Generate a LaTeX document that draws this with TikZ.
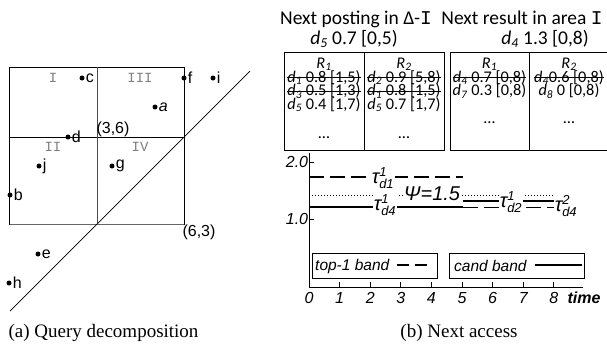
\documentclass[tikz,border=0pt]{standalone}
\usepackage{fontspec}
\setmainfont{Liberation Serif}
\newfontfamily\arial{Liberation Sans}
\newfontfamily\calib{Carlito}
\newfontfamily\cour{Liberation Mono}
\newcommand\dsub[1]{\textit{d}\textsubscript{\textit{#1}}}
\newcommand\rsub[1]{\textit{R}\textsubscript{\textit{#1}}}
\newcommand\taul[2]{$\mbox{τ}^{\mbox{\fontsize{13}{13}\selectfont #1}}_{\mbox{\fontsize{13}{13}\selectfont #2}}$}
\tikzset{
  dot/.style={circle,fill=black,inner sep=0pt,minimum size=5pt},
  ptlab/.style={font=\arial\fontsize{16}{16}\selectfont,inner sep=0pt,anchor=west},
  quad/.style={font=\cour\fontsize{14}{14}\selectfont,text=black!50,inner sep=0pt},
  crd/.style={font=\arial\fontsize{16}{16}\selectfont,inner sep=0pt},
  capt/.style={font=\fontsize{19}{19}\selectfont,anchor=base,inner sep=0pt},
  ttl/.style={font=\calib\fontsize{19.5}{19.5}\selectfont,anchor=base,inner sep=0pt},
  cell/.style={font=\calib\fontsize{16.3}{16.3}\selectfont,anchor=base,inner sep=0pt,text height=9pt,text depth=1.5pt},
  axlab/.style={font=\arial\itshape\fontsize{16}{16}\selectfont,inner sep=0pt},
  lglab/.style={font=\arial\itshape\fontsize{15.5}{15.5}\selectfont,inner sep=0pt,anchor=west},
  taulab/.style={font=\arial\itshape\fontsize{20}{20}\selectfont,fill=white,inner sep=0.3pt},
  topdash/.style={dash pattern=on 15pt off 6pt,line width=1.1pt},
  candline/.style={line width=1.1pt},
  thrline/.style={dash pattern=on 0.8pt off 2.2pt,line width=0.8pt},
  strk/.style={line width=0.7pt},
  box/.style={draw,line width=0.8pt}
}
\begin{document}
\begin{tikzpicture}[x=1pt,y=-1pt]
\useasboundingbox[fill=white] (0,0) rectangle (607,346);
% ---------- (a) query decomposition ----------
\draw[line width=0.8pt] (9.5,67) rectangle (184,224);
\draw[line width=0.8pt] (9.5,137) -- (184,137);
\draw[line width=1pt,black!70] (97,67) -- (97,224);
\draw[line width=0.9pt,black!60] (9.5,224) -- (184,224);
\draw[line width=0.7pt] (10,311) -- (250,71);
\node[quad] (qI) at (53,78) {I};
\node[quad] (qIII) at (140,78) {III};
\node[quad] (qII) at (53,147) {II};
\node[quad] (qIV) at (140,147) {IV};
\node[crd] (p36) at (113,129) {(3,6)};
\node[crd] (p63) at (199,232) {(6,3)};
\foreach \n/\x/\y/\t in {c/82/78/c, f/184/78/f, i/213/78/i, d/68/137/d, j/39/166/j, g/112/166/g, b/10/195/b, e/38/254/e, h/9/283/h}{
  \node[dot] (\n) at (\x,\y) {};
  \node[ptlab] (l\n) at ([xshift=1pt]\n.east) {\t};
}
\node[dot] (a) at (155,107) {};
\node[ptlab] (la) at ([xshift=1pt]a.east) {\textit{a}};
\node[capt] (capa) at (103.5,337) {(a) Query decomposition};
% ---------- (b) next access ----------
\node[ttl] (t1) at (356,24) {Next posting in Δ-{\cour I}};
\node[ttl] (t1b) at (354,44) {\dsub{5} 0.7 [0,5)};
\node[ttl] (t2) at (522,24) {Next result in area {\cour I}};
\node[ttl] (t2b) at (545,44) {\dsub{4} 1.3 [0,8)};
% tables
\draw[box] (284,52) rectangle (444,150);
\draw[box] (364,52) -- (364,150);
\draw[box] (609,52) -- (450,52) -- (450,150) -- (609,150);
\draw[box] (529,52) -- (529,150);
\node[cell] (h11) at (324,68) {\rsub{1}};
\node[cell] (h12) at (404,68) {\rsub{2}};
\node[cell] (h21) at (489.5,68) {\rsub{1}};
\node[cell] (h22) at (569,68) {\rsub{2}};
\node[cell] (a1) at (324,82) {\dsub{1} 0.8 [1,5)};
\node[cell] (a2) at (324,95.5) {\dsub{3} 0.5 [1,3)};
\node[cell] (a3) at (324,109) {\dsub{5} 0.4 [1,7)};
\node[cell] (a4) at (324,138) {…};
\node[cell] (b1) at (404,82) {\dsub{2} 0.9 [5,8)};
\node[cell] (b2) at (404,95.5) {\dsub{1} 0.8 [1,5)};
\node[cell] (b3) at (404,109) {\dsub{5} 0.7 [1,7)};
\node[cell] (b4) at (404,138) {…};
\node[cell] (c1) at (489.5,82) {\dsub{4} 0.7 [0,8)};
\node[cell] (c2) at (489.5,95.5) {\dsub{7} 0.3 [0,8)};
\node[cell] (c3) at (489.5,123) {…};
\node[cell] (e1) at (569,82) {\dsub{4}0.6 [0,8)};
\node[cell] (e2) at (569,95.5) {\dsub{8} 0 [0,8)};
\node[cell] (e3) at (569,123) {…};
\foreach \n in {a1,a2,b1,b2,c1,e1}{
  \draw[strk] ([yshift=4.6pt]\n.base west) -- ([yshift=4.6pt]\n.base east);
}
% plot axes
\draw[line width=0.8pt] (309,153) -- (309,287) -- (583,287);
\draw[line width=0.8pt] (309,162) -- (314,162);
\draw[line width=0.8pt] (309,219) -- (314,219);
\node[axlab] (y2) at (297,162) {2.0};
\node[axlab] (y1) at (297,219) {1.0};
\foreach \k in {1,...,8}{
  \draw[line width=0.8pt] (309+30.6*\k,287) -- (309+30.6*\k,282);
}
\foreach \k in {0,...,8}{
  \node[axlab] (x\k) at (309+30.6*\k,298) {\k};
}
\node[axlab,font=\arial\bfseries\itshape\fontsize{16}{16}\selectfont] (tm) at (584,298) {time};
% bands
\draw[thrline] (309,195) -- (555,195);
\draw[topdash] (309,177) -- (463,177);
\draw[topdash] (463,207.5) -- (555,207.5);
\draw[candline] (309,207) -- (463,207);
\draw[candline] (463,201) -- (555,201);
\node[taulab] (td1) at (383,178) {\taul{1}{d1}};
\node[taulab] (td4a) at (385,205) {\taul{1}{d4}};
\node[taulab] (td2) at (511,202) {\taul{1}{d2}};
\node[taulab] (td4b) at (566,206) {\taul{2}{d4}};
\node[taulab,font=\arial\itshape\fontsize{20}{20}\selectfont,anchor=base] (psi) at (432,200.5) {Ψ=1.5};
% legend
\draw[box] (312,253) rectangle (437,278);
\draw[box] (449,253) rectangle (584,278);
\node[lglab] (lg1) at (315,266) {top-1 band};
\draw[dash pattern=on 12pt off 6pt,line width=1.1pt] (397,265) -- (428,265);
\node[lglab] (lg2) at (454,266) {cand band};
\draw[candline] (535,265) -- (582,265);
\node[capt] (capb) at (459,337) {(b) Next access};
\end{tikzpicture}
\end{document}
